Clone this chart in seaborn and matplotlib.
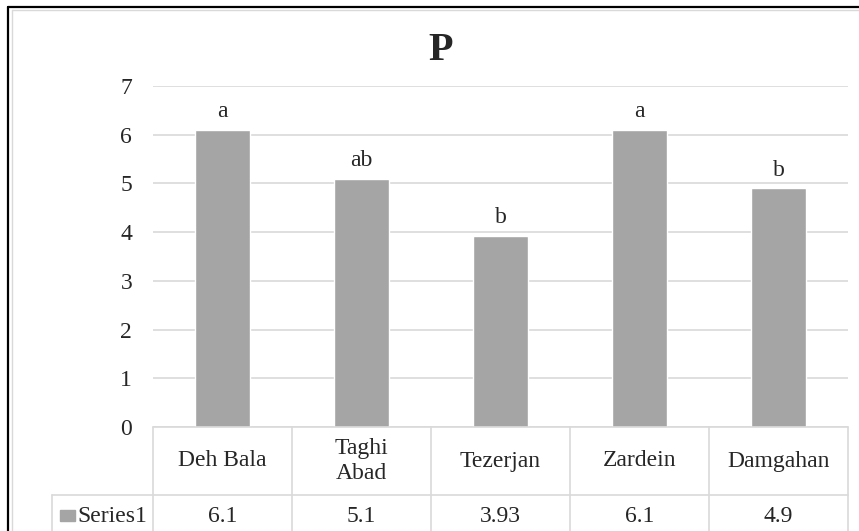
import pandas as pd
import seaborn as sns
import matplotlib.pyplot as plt
from matplotlib.lines import Line2D
from matplotlib.patches import Rectangle
from matplotlib.transforms import blended_transform_factory

sites = ["Deh Bala", "Taghi\nAbad", "Tezerjan", "Zardein", "Damgahan"]
p_values = [6.1, 5.1, 3.93, 6.1, 4.9]
p_text = ["6.1", "5.1", "3.93", "6.1", "4.9"]
letters = ["a", "ab", "b", "a", "b"]
series_name = "Series1"

W, H = 859, 531
bar_color = "#a5a5a5"
line_color = "#d9d9d9"
fs = 17

sns.set_style("white")
plt.rcParams['font.family'] = ['Liberation Serif', 'DejaVu Serif']

df = pd.DataFrame({"site": sites, "P": p_values})

fig = plt.figure(figsize=(W / 100, H / 100), dpi=100)
ax = fig.add_axes([153 / W, 1 - 427 / H, (848 - 153) / W, (427 - 86) / H])

sns.barplot(data=df, x="site", y="P", color=bar_color, saturation=1,
            width=0.39, errorbar=None, ax=ax, zorder=3)

ax.set_xlim(-0.5, len(sites) - 0.5)
ax.set_ylim(0, 7)
ax.set_yticks(range(8))
ax.yaxis.grid(True, color=line_color, lw=1.2, zorder=0)
ax.set_axisbelow(True)
for s in ax.spines.values():
    s.set_visible(False)
ax.set_xticks([])
ax.set_xlabel("")
ax.set_ylabel("")
ax.tick_params(axis="y", length=0, pad=15, labelsize=fs)

# significance letters over bars
for i, (v, l) in enumerate(zip(p_values, letters)):
    ax.annotate(l, (i, v), xytext=(0, 9), textcoords="offset points",
                ha="center", va="baseline", fontsize=fs)

# data table under the plot
ax_h = 427 - 86
ax_w = 848 - 153
def ay(py):
    return (427 - py) / ax_h
def axx(px):
    return (px - 153) / ax_w

tr = blended_transform_factory(ax.transData, ax.transAxes)
row1_bot = ay(495)
row2_bot = ay(540)
n = len(sites)
for k in range(n + 1):
    ax.add_line(Line2D([k - 0.5, k - 0.5], [0, row2_bot], transform=tr,
                       color=line_color, lw=1.2, clip_on=False))
ax.add_line(Line2D([-0.5, n - 0.5], [0, 0], transform=tr,
                   color=line_color, lw=1.2, clip_on=False, zorder=4))
ax.add_line(Line2D([axx(52), 1], [row1_bot, row1_bot], transform=ax.transAxes,
                   color=line_color, lw=1.2, clip_on=False))
ax.add_line(Line2D([axx(52), axx(52)], [row1_bot, row2_bot], transform=ax.transAxes,
                   color=line_color, lw=1.2, clip_on=False))

for i, (name, t) in enumerate(zip(sites, p_text)):
    ax.text(i, ay(461), name, transform=tr, ha="center", va="center",
            fontsize=fs, linespacing=1.2)
    ax.text(i, ay(517), t, transform=tr, ha="center", va="center", fontsize=fs)

ax.add_patch(Rectangle((axx(60), ay(521)), 15 / ax_w, 11 / ax_h,
                       transform=ax.transAxes, color=bar_color, clip_on=False))
ax.text(axx(77), ay(517), series_name, transform=ax.transAxes,
        ha="left", va="center", fontsize=fs)

# title
fig.text(441 / W, 1 - 51 / H, "P", ha="center", va="center",
         fontsize=29, fontweight="bold")

# chart frame
fig.add_artist(Line2D([8 / W, 1], [1 - 7 / H, 1 - 7 / H], color="black", lw=1.6))
fig.add_artist(Line2D([8 / W, 8 / W], [0, 1 - 7 / H], color="black", lw=1.6))
fig.add_artist(Line2D([12 / W, 1], [1 - 10 / H, 1 - 10 / H], color=line_color, lw=1))
fig.add_artist(Line2D([12 / W, 12 / W], [0, 1 - 10 / H], color=line_color, lw=1))

fig.savefig("out.png", dpi=100)
